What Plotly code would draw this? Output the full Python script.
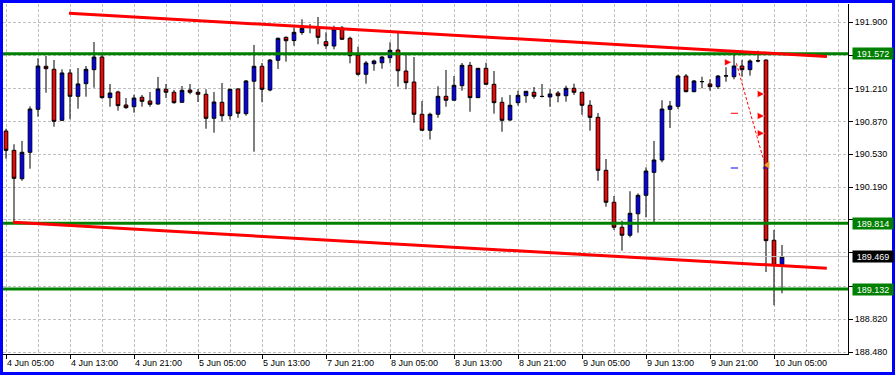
import plotly.graph_objects as go

# ---------------- data (H1 candles, bar index 0 = 4 Jun 05:00) ----------------
opens = [190.770, 190.570, 190.276, 190.550, 190.995, 191.441, 191.410, 190.881, 191.372, 191.130,
         191.261, 191.406, 191.537, 191.116, 191.175, 191.040, 191.022, 191.120, 191.081, 191.050,
         191.203, 191.172, 191.068, 191.195, 191.172, 191.151, 190.902, 191.068, 190.929, 191.206,
         190.950, 191.286, 191.441, 191.195, 191.503, 191.741, 191.708, 191.791, 191.851, 191.833,
         191.696, 191.651, 191.838, 191.731, 191.558, 191.358, 191.468, 191.478, 191.530, 191.610,
         191.392, 191.278, 190.944, 190.778, 190.944, 191.130, 191.089, 191.240, 191.451, 191.116,
         191.420, 191.254, 191.068, 190.884, 191.064, 191.136, 191.172, 191.130, 191.123, 191.164,
         191.136, 191.213, 191.172, 191.037, 190.912, 190.363, 190.032, 189.773, 189.690, 189.913,
         190.104, 190.342, 190.470, 190.995, 191.026, 191.340, 191.178, 191.281, 191.258, 191.230,
         191.340, 191.333, 191.444, 191.406, 191.496, 191.506, 189.638, 189.385]
highs = [190.794, 190.633, 190.667, 191.026, 191.524, 191.548, 191.506, 191.410, 191.410, 191.423,
         191.444, 191.693, 191.565, 191.258, 191.188, 191.112, 191.147, 191.144, 191.175, 191.330,
         191.258, 191.195, 191.237, 191.258, 191.206, 191.203, 191.175, 191.268, 191.206, 191.213,
         191.299, 191.662, 191.475, 191.517, 191.739, 191.750, 191.845, 191.928, 191.879, 191.952,
         191.793, 191.862, 191.859, 191.748, 191.644, 191.496, 191.509, 191.551, 191.690, 191.804,
         191.561, 191.537, 191.081, 190.960, 191.234, 191.403, 191.340, 191.475, 191.486, 191.423,
         191.478, 191.392, 191.120, 191.144, 191.188, 191.185, 191.226, 191.258, 191.203, 191.185,
         191.240, 191.261, 191.175, 191.089, 190.957, 190.480, 190.097, 189.841, 190.146, 190.123,
         190.394, 190.667, 191.089, 191.081, 191.354, 191.361, 191.299, 191.333, 191.306, 191.351,
         191.431, 191.565, 191.506, 191.513, 191.603, 191.511, 189.745, 189.589]
lows = [190.483, 189.827, 190.255, 190.380, 190.919, 191.167, 190.815, 190.874, 190.892, 191.002,
        191.126, 191.219, 191.105, 191.022, 190.981, 191.002, 190.960, 191.022, 191.022, 191.043,
        191.112, 191.053, 191.064, 191.151, 191.071, 190.794, 190.753, 190.867, 190.888, 190.908,
        190.929, 190.556, 191.068, 191.182, 191.413, 191.489, 191.654, 191.768, 191.783, 191.669,
        191.620, 191.617, 191.713, 191.472, 191.344, 191.261, 191.395, 191.416, 191.472, 191.230,
        191.203, 190.856, 190.776, 190.682, 190.908, 191.022, 191.087, 191.188, 190.970, 191.112,
        191.252, 190.950, 190.763, 190.877, 191.033, 191.064, 191.105, 191.118, 191.022, 191.068,
        191.074, 191.144, 190.939, 190.774, 190.255, 189.986, 189.745, 189.530, 189.669, 189.717,
        189.876, 189.820, 190.446, 190.802, 190.998, 191.172, 191.172, 191.213, 191.188, 191.206,
        191.281, 191.306, 191.333, 191.344, 191.482, 189.309, 188.964, 189.089]
closes = [190.570, 190.280, 190.550, 190.998, 191.444, 191.416, 190.871, 191.372, 191.130, 191.258,
          191.410, 191.537, 191.116, 191.164, 191.033, 191.012, 191.112, 191.078, 191.047, 191.206,
          191.172, 191.064, 191.192, 191.172, 191.151, 190.902, 191.071, 190.929, 191.203, 190.954,
          191.289, 191.441, 191.203, 191.506, 191.731, 191.706, 191.793, 191.835, 191.852, 191.741,
          191.654, 191.827, 191.721, 191.551, 191.358, 191.475, 191.496, 191.537, 191.607, 191.395,
          191.271, 190.944, 190.778, 190.944, 191.130, 191.089, 191.244, 191.451, 191.116, 191.420,
          191.254, 191.064, 190.881, 191.037, 191.140, 191.182, 191.130, 191.128, 191.154, 191.136,
          191.213, 191.172, 191.037, 190.912, 190.363, 190.032, 189.773, 189.690, 189.918, 190.104,
          190.356, 190.470, 190.998, 191.030, 191.340, 191.178, 191.289, 191.283, 191.230, 191.340,
          191.342, 191.444, 191.406, 191.496, 191.498, 189.634, 189.379, 189.469]
bar_index = list(range(len(opens)))

time_tick_bars = [0, 8, 16, 24, 32, 40, 48, 56, 64, 72, 80, 88, 96]
time_tick_labels = ["4 Jun 05:00", "4 Jun 13:00", "4 Jun 21:00", "5 Jun 05:00", "5 Jun 13:00",
                    "7 Jun 21:00", "8 Jun 05:00", "8 Jun 13:00", "8 Jun 21:00", "9 Jun 05:00",
                    "9 Jun 13:00", "9 Jun 21:00", "10 Jun 05:00"]

price_ticks = [191.900, 191.555, 191.210, 190.870, 190.530, 190.190, 189.850, 189.510, 189.160, 188.820, 188.480]
# grid labels hidden behind the level boxes are left blank
price_tick_labels = ["191.900", "", "191.210", "190.870", "190.530", "190.190",
                     "", "", "", "188.820", "188.480"]

level_prices = [191.572, 189.814, 189.132]
bid_price = 189.469

upper_trend_x = [7.875, 102.625]
upper_trend_y = [191.990, 191.5425]
lower_trend_x = [0.9, 102.6]
lower_trend_y = [189.824, 189.348]

open_arrow_x = [90.7]
open_arrow_y = [191.482]
close_arrow_x = [94.8, 94.8, 94.8]
close_arrow_y = [191.154, 190.926, 190.747]
close_mark_x = [95.2]
close_mark_y = [190.418]
trade_path_x = [91.3, 94.7]
trade_path_y = [191.472, 190.470]
sl_dash_x = [90.6, 91.5]
sl_dash_y = [190.954, 190.954]
tp_dash1_x = [90.6, 91.5]
tp_dash2_x = [94.6, 95.3]
tp_dash_y = [190.387, 190.387]

x_range = [-0.375, 105.25]
y_range = [188.4596, 192.0865]

FONT = "Liberation Sans, Arial, sans-serif"
GRID = "#c0c0c0"
GREEN = "#008000"

fig = go.Figure()
# bid line (drawn first so candles sit over it)
fig.add_trace(go.Scatter(x=x_range, y=[bid_price, bid_price], mode="lines",
                         line=dict(color=GRID, width=1), showlegend=False, hoverinfo="skip"))
fig.add_trace(go.Candlestick(
    x=bar_index, open=opens, high=highs, low=lows, close=closes,
    increasing=dict(fillcolor="#0000ff", line=dict(color="black", width=1)),
    decreasing=dict(fillcolor="#ff0000", line=dict(color="black", width=1)),
    whiskerwidth=0, showlegend=False, hoverinfo="skip"))

# trade markers
fig.add_trace(go.Scatter(x=trade_path_x, y=trade_path_y, mode="lines",
                         line=dict(color="red", width=1, dash="3px,2px"), showlegend=False, hoverinfo="skip"))
fig.add_trace(go.Scatter(x=sl_dash_x, y=sl_dash_y, mode="lines",
                         line=dict(color="red", width=1), showlegend=False, hoverinfo="skip"))
fig.add_trace(go.Scatter(x=tp_dash1_x, y=tp_dash_y, mode="lines",
                         line=dict(color="#0000ff", width=1), showlegend=False, hoverinfo="skip"))
fig.add_trace(go.Scatter(x=tp_dash2_x, y=tp_dash_y, mode="lines",
                         line=dict(color="#0000ff", width=1), showlegend=False, hoverinfo="skip"))
fig.add_trace(go.Scatter(x=open_arrow_x + close_arrow_x, y=open_arrow_y + close_arrow_y, mode="markers",
                         marker=dict(symbol="arrow-right", size=7, color="red",
                                     line=dict(color="white", width=0.5)),
                         showlegend=False, hoverinfo="skip"))
fig.add_trace(go.Scatter(x=close_mark_x, y=close_mark_y, mode="markers",
                         marker=dict(symbol="triangle-left", size=7, color="#e8a030"),
                         showlegend=False, hoverinfo="skip"))

# horizontal levels
for p in level_prices:
    fig.add_trace(go.Scatter(x=x_range, y=[p, p], mode="lines", line=dict(color=GREEN, width=3),
                             showlegend=False, hoverinfo="skip", cliponaxis=False))
# trend lines
fig.add_trace(go.Scatter(x=upper_trend_x, y=upper_trend_y, mode="lines", line=dict(color="#ff0000", width=3),
                         showlegend=False, hoverinfo="skip"))
fig.add_trace(go.Scatter(x=lower_trend_x, y=lower_trend_y, mode="lines", line=dict(color="#ff0000", width=3),
                         showlegend=False, hoverinfo="skip"))

shapes = []
# blue window frame (pixel geometry -> paper coords: plot spans px 3..848 x, 4..354 y)
def px_x(p):
    return (p - 3) / 845.0

def px_y(p):
    return (354 - p) / 350.0

for (xa, xb, ya, yb) in [(0, 3, 0, 375), (892, 895, 0, 375), (0, 895, 0, 3), (0, 895, 372, 375)]:
    shapes.append(dict(type="rect", xref="paper", yref="paper",
                       x0=px_x(xa), x1=px_x(xb), y0=px_y(yb), y1=px_y(ya),
                       fillcolor="#0000ff", line=dict(width=0), layer="above"))

annotations = []
for p in level_prices:
    annotations.append(dict(xref="paper", yref="y", x=1, y=p, xanchor="left", yanchor="middle",
                            xshift=4, text=f"{p:.3f}", showarrow=False, bgcolor=GREEN,
                            font=dict(family=FONT, size=9, color="white"),
                            width=38, height=9, borderpad=1))
annotations.append(dict(xref="paper", yref="y", x=1, y=bid_price, xanchor="left", yanchor="middle",
                        xshift=4, text=f"{bid_price:.3f}", showarrow=False, bgcolor="black",
                        font=dict(family=FONT, size=9, color="white"),
                        width=38, height=9, borderpad=1))

fig.update_layout(
    width=895, height=375,
    margin=dict(l=3, r=47, t=4, b=21, pad=0),
    paper_bgcolor="white", plot_bgcolor="white",
    showlegend=False, hovermode=False,
    font=dict(family=FONT, size=9, color="black"),
    boxgap=0.35,
    shapes=shapes, annotations=annotations,
    xaxis=dict(range=x_range, rangeslider=dict(visible=False), tickmode="array",
               tickvals=time_tick_bars, ticktext=time_tick_labels,
               ticks="outside", ticklen=4, tickcolor="black", tickwidth=1,
               ticklabelposition="outside right",
               showline=True, linecolor="black", linewidth=1,
               showgrid=True, gridcolor=GRID, gridwidth=1, griddash="3px,2px",
               minor=dict(tickmode="linear", tick0=0, dtick=4, showgrid=True, gridcolor=GRID,
                          griddash="3px,2px", ticks=""),
               zeroline=False, tickfont=dict(family=FONT, size=9, color="black")),
    yaxis=dict(range=y_range, side="right", tickmode="array",
               tickvals=price_ticks, ticktext=price_tick_labels,
               ticks="outside", ticklen=4, tickcolor="black", tickwidth=1,
               showline=True, linecolor="black", linewidth=1,
               showgrid=True, gridcolor=GRID, gridwidth=1, griddash="3px,2px",
               zeroline=False, tickfont=dict(family=FONT, size=9, color="black")),
)

fig.write_html("out.html")
